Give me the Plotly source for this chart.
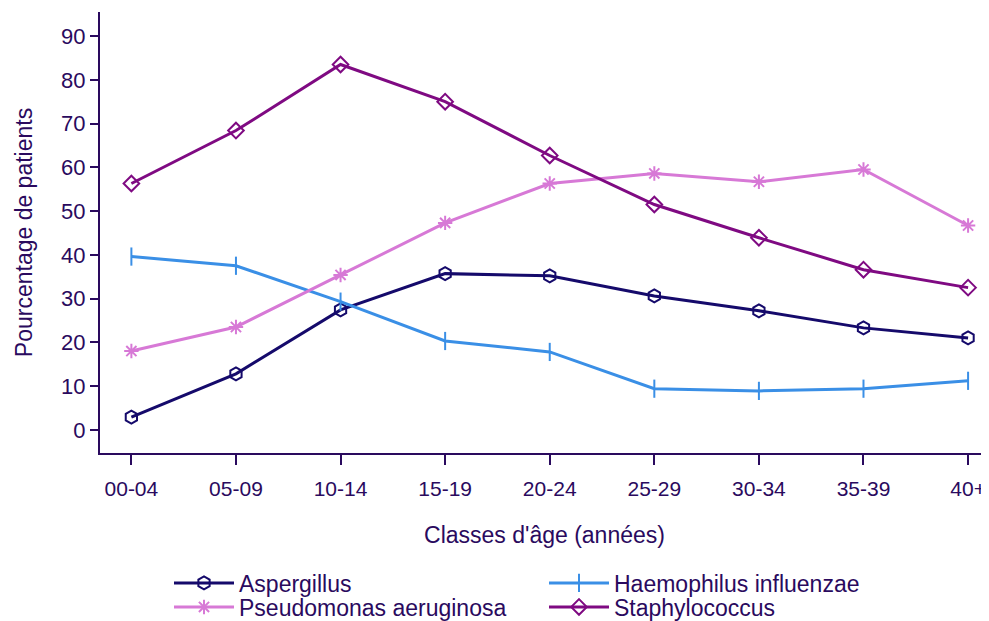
import plotly.graph_objects as go

categories = ["00-04", "05-09", "10-14", "15-19", "20-24", "25-29", "30-34", "35-39", "40+"]
aspergillus = [2.9, 12.8, 27.4, 35.7, 35.2, 30.6, 27.2, 23.3, 21.0]
haemophilus = [39.6, 37.5, 29.3, 20.3, 17.8, 9.4, 8.9, 9.4, 11.2]
pseudomonas = [18.0, 23.5, 35.4, 47.3, 56.3, 58.6, 56.7, 59.5, 46.7]
staphylococcus = [56.3, 68.4, 83.5, 75.0, 62.7, 51.5, 43.9, 36.6, 32.5]
y_ticks = [0, 10, 20, 30, 40, 50, 60, 70, 80, 90]

TXT = "#2a0a5e"
FONT = "Liberation Sans, Arial, sans-serif"

# page body has an 8px margin; figure sized so it fills the 989x621 window
W, H = 981, 613
ML, MR, MT, MB = 92, 0, 4, 168
PW = W - ML - MR

fig = go.Figure()
series = [
    ("Aspergillus", aspergillus, "#150a6b", "hexagon-open", 13, "legend"),
    ("Haemophilus influenzae", haemophilus, "#3a8fe6", "line-ns-open", 13, "legend2"),
    ("Pseudomonas aeruginosa", pseudomonas, "#d779d6", "asterisk-open", 12, "legend3"),
    ("Staphylococcus", staphylococcus, "#7f0a82", "diamond-open", 12, "legend4"),
]
xi = list(range(len(categories)))
for name, vals, col, sym, sz, lg in series:
    fig.add_trace(go.Scatter(
        x=xi, y=vals, name=name, mode="lines+markers",
        line=dict(color=col, width=3),
        marker=dict(symbol=sym, size=sz, color=col, line=dict(color=col, width=2)),
        legend=lg,
    ))

def leg(xpx, ypx):
    return dict(
        x=(xpx - ML) / PW, xref="paper", xanchor="left",
        y=1 - ypx / H, yref="container", yanchor="middle",
        orientation="v", font=dict(size=23, color=TXT),
        bgcolor="rgba(0,0,0,0)", itemwidth=60,
    )

fig.update_layout(
    width=W, height=H,
    paper_bgcolor="white", plot_bgcolor="white",
    margin=dict(l=ML, r=MR, t=MT, b=MB, autoexpand=False),
    font=dict(family=FONT, color=TXT, size=23),
    xaxis=dict(
        range=[-0.3, 8.2], tickmode="array", tickvals=xi, ticktext=categories,
        showgrid=False, zeroline=False, showline=True, linecolor=TXT, linewidth=2,
        ticks="outside", ticklen=10, tickwidth=1.5, tickcolor=TXT,
        ticklabelstandoff=6, automargin=False, ticklabeloverflow="allow",
        tickfont=dict(size=21, color=TXT),
        title=dict(text="Classes d'âge (années)", font=dict(size=23, color=TXT), standoff=28),
    ),
    yaxis=dict(
        range=[-5.3, 95.5], tickmode="array", tickvals=y_ticks,
        showgrid=False, zeroline=False, showline=True, linecolor=TXT, linewidth=2,
        ticks="outside", ticklen=8, tickwidth=1.5, tickcolor=TXT, automargin=False,
        tickfont=dict(size=22, color=TXT),
        title=dict(text="Pourcentage de patients", font=dict(size=23, color=TXT), standoff=22),
    ),
    legend=leg(161, 575),
    legend2=leg(536, 575),
    legend3=leg(161, 599),
    legend4=leg(536, 599),
    showlegend=True,
)

fig.write_html("out.html")
